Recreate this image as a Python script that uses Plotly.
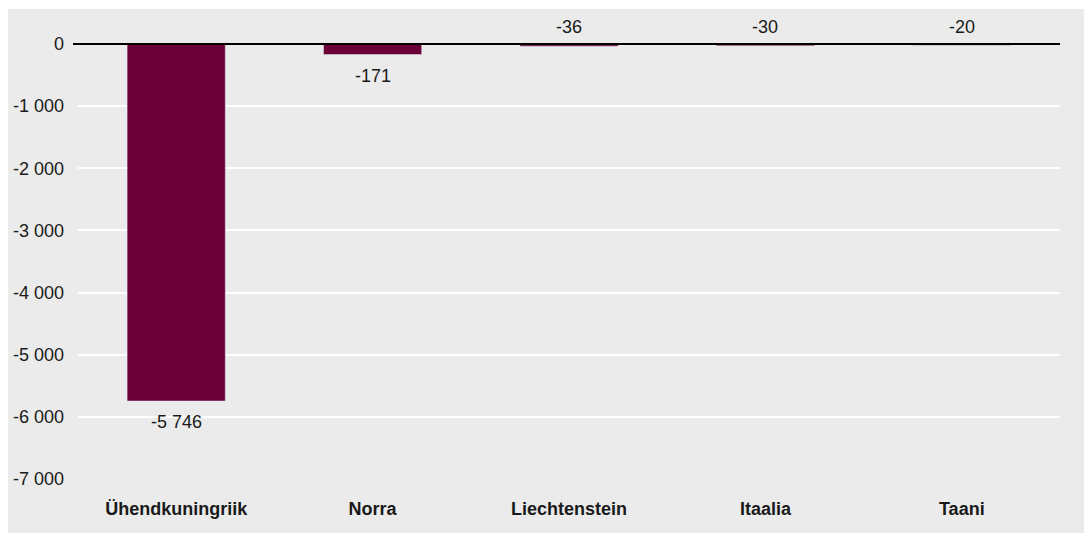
import plotly.graph_objects as go

categories = ["Ühendkuningriik", "Norra", "Liechtenstein", "Itaalia", "Taani"]
values = [-5746, -171, -36, -30, -20]
labels = ["-5 746", "-171", "-36", "-30", "-20"]
tick_vals = [0, -1000, -2000, -3000, -4000, -5000, -6000, -7000]
tick_text = ["0", "-1 000", "-2 000", "-3 000", "-4 000", "-5 000", "-6 000", "-7 000"]

# the page body adds an 8px offset, so the figure is laid out 8px up/left
W, H = 1084, 525
L, R, T, B = 70, 32, 1, 54
pw, ph = W - L - R, H - T - B

FONT = "Liberation Sans, Arial, Helvetica, sans-serif"
BAR = "#6b0036"
BG = "#ebebeb"
TXT = "#1a1a1a"

fig = go.Figure()
fig.add_trace(go.Bar(x=categories, y=values, marker_color=BAR, width=0.5,
                     hoverinfo="skip"))

annotations = []
for c, v, t in zip(categories, values, labels):
    if v < -100:
        annotations.append(dict(x=c, y=v, text=t, showarrow=False, yanchor="top",
                                yshift=-9, font=dict(size=18, color=TXT, family=FONT)))
    else:
        annotations.append(dict(x=c, y=0, text=t, showarrow=False, yanchor="bottom",
                                yshift=5, font=dict(size=18, color=TXT, family=FONT)))

fig.update_layout(
    width=W, height=H,
    margin=dict(l=L, r=R, t=T, b=B),
    paper_bgcolor="white",
    plot_bgcolor=BG,
    showlegend=False,
    font=dict(family=FONT, size=18, color=TXT),
    annotations=annotations,
    shapes=[
        dict(type="rect", xref="paper", yref="paper",
             x0=-L / pw, x1=(W - L) / pw, y0=-B / ph, y1=1,
             fillcolor=BG, line=dict(width=0), layer="below"),
        dict(type="line", xref="paper", yref="y",
             x0=-5 / pw, x1=1, y0=0, y1=0,
             line=dict(color="black", width=2), layer="above"),
    ],
)
fig.update_xaxes(
    showgrid=False, zeroline=False, showline=False,
    tickfont=dict(size=18, color=TXT, family=FONT, weight="bold"),
    ticklabelstandoff=17,
)
fig.update_yaxes(
    range=[-7000, 563],
    tickvals=tick_vals, ticktext=tick_text,
    showgrid=True, gridcolor="white", gridwidth=2,
    zeroline=False, showline=False,
    tickfont=dict(size=18, color=TXT, family=FONT),
    ticklabelstandoff=13,
)

fig.write_html("out.html")
